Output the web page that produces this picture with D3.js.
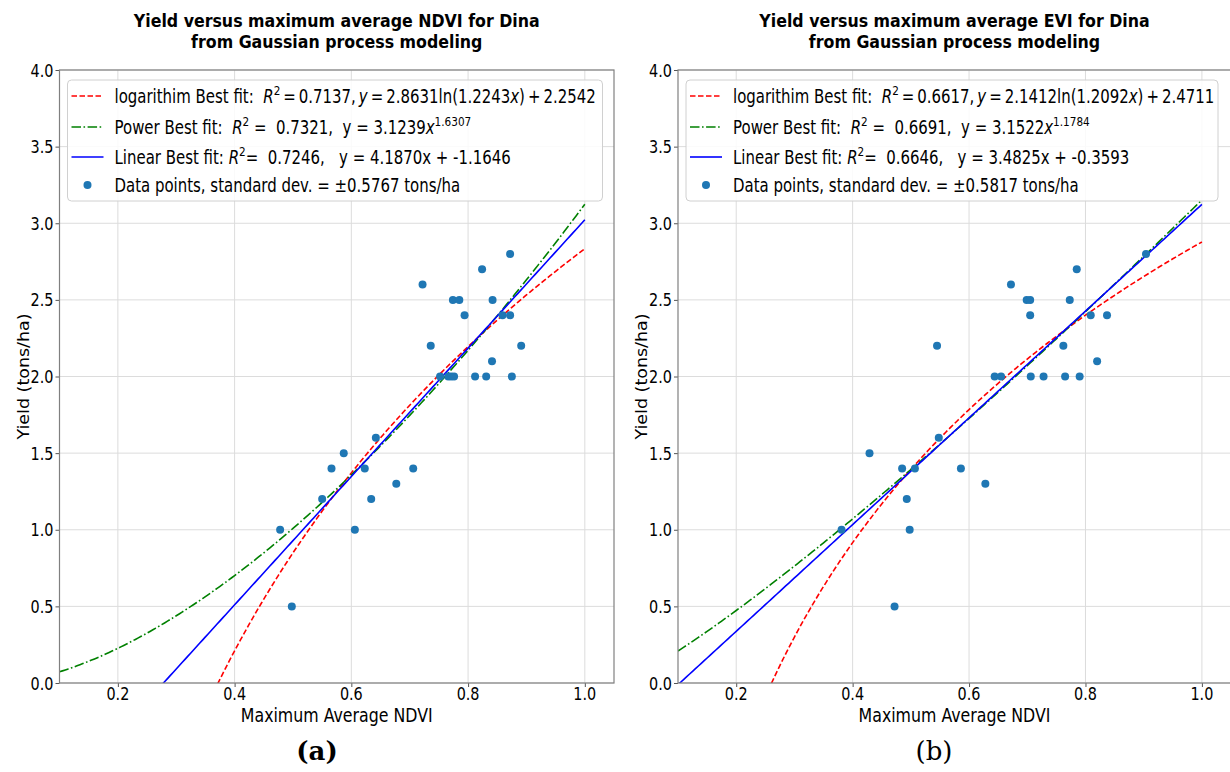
<!DOCTYPE html>
<html>
<head>
<meta charset="utf-8">
<script src="https://cdnjs.cloudflare.com/ajax/libs/d3/7.8.5/d3.min.js"></script>
<style>
  body { margin: 0; background: #fff; }
  svg { display: block; }
  text { font-family: "DejaVu Sans", sans-serif; white-space: pre; }
</style>
</head>
<body>
<svg width="1230" height="772"></svg>
<script>
// Data
const ndviX = [0.478, 0.498, 0.550, 0.566, 0.587, 0.606, 0.623, 0.634, 0.642, 0.677,
               0.706, 0.722, 0.736, 0.752, 0.766, 0.771, 0.776, 0.774, 0.785, 0.794,
               0.812, 0.824, 0.831, 0.841, 0.842, 0.859, 0.872, 0.872, 0.875, 0.891]
const ndviY = [1.0, 0.5, 1.2, 1.4, 1.5, 1.0, 1.4, 1.2, 1.6, 1.3,
               1.4, 2.6, 2.2, 2.0, 2.0, 2.0, 2.0, 2.5, 2.5, 2.4,
               2.0, 2.7, 2.0, 2.1, 2.5, 2.4, 2.8, 2.4, 2.0, 2.2]
const eviX = [0.381, 0.429, 0.472, 0.485, 0.493, 0.498, 0.507, 0.545, 0.548, 0.586,
              0.628, 0.644, 0.655, 0.672, 0.699, 0.705, 0.705, 0.706, 0.728, 0.762,
              0.765, 0.773, 0.785, 0.790, 0.809, 0.820, 0.837, 0.904]
const eviY = [1.0, 1.5, 0.5, 1.4, 1.2, 1.0, 1.4, 2.2, 1.6, 1.4,
              1.3, 2.0, 2.0, 2.6, 2.5, 2.5, 2.4, 2.0, 2.0, 2.2,
              2.0, 2.5, 2.7, 2.0, 2.4, 2.1, 2.4, 2.8]

// Fit coefficients, as printed in the legends
const ndviLog = [2.8631, 1.2243, 2.2542]   // a*ln(b*x)+c
const ndviPow = [3.1239, 1.6307]           // a*x^b
const ndviLin = [4.1870, -1.1646]          // a*x+b
const eviLog = [2.1412, 1.2092, 2.4711]
const eviPow = [3.1522, 1.1784]
const eviLin = [3.4825, -0.3593]

const xTicks = [0.2, 0.4, 0.6, 0.8, 1.0]
const yTicks = [0.0, 0.5, 1.0, 1.5, 2.0, 2.5, 3.0, 3.5, 4.0]
const fitX = d3.range(0.1, 1.0001, 0.005)

const svg = d3.select('svg')
const SX = 0.8   // the picture's text is horizontally squeezed
const plotTop = 70, plotBottom = 683
const TS = '\u2009'  // thin space, for the mathtext bits

// draw text at (x,y), squeezed horizontally; parts = [[str, kind], ...]
function label(g, x, y, parts, size, opts = {}) {
  const sx = opts.sx || SX
  const t = g.append('text')
    .attr('transform', `translate(${x},${y}) scale(${sx},1)` + (opts.rotate ? ` rotate(${opts.rotate})` : ''))
    .attr('font-size', size)
    .attr('text-anchor', opts.anchor || 'start')
    .attr('fill', opts.fill || '#000')
  if (opts.weight) t.attr('font-weight', opts.weight)
  if (opts.family) t.style('font-family', opts.family)
  if (typeof parts === 'string') parts = [[parts, '']]
  let up = false
  parts.forEach(([s, kind]) => {
    const ts = t.append('tspan').text(s)
    if (kind === 'i') ts.attr('font-style', 'italic')
    if (kind === 'sup') { ts.attr('font-size', size * 0.7).attr('dy', -size * 0.4); up = true }
    else if (up) { ts.attr('dy', size * 0.4); up = false }
  })
  return t
}

function drawPanel(cfg) {
  const x = d3.scaleLinear().domain([0.1, 1.05]).range([cfg.left, cfg.right])
  const y = d3.scaleLinear().domain([0, 4]).range([plotBottom, plotTop])
  const g = svg.append('g')
  const clipId = 'clip' + cfg.id
  svg.append('clipPath').attr('id', clipId).append('rect')
    .attr('x', cfg.left).attr('y', plotTop).attr('width', cfg.right - cfg.left).attr('height', plotBottom - plotTop)

  // grid
  g.append('g').selectAll('line').data(xTicks).join('line')
    .attr('x1', d => x(d)).attr('x2', d => x(d)).attr('y1', plotTop).attr('y2', plotBottom)
    .attr('stroke', '#dcdcdc').attr('stroke-width', 1)
  g.append('g').selectAll('line').data(yTicks).join('line')
    .attr('x1', cfg.left).attr('x2', cfg.right).attr('y1', d => y(d)).attr('y2', d => y(d))
    .attr('stroke', '#dcdcdc').attr('stroke-width', 1)

  // axes
  const ax = g.append('g').attr('transform', `translate(0,${plotBottom})`)
    .call(d3.axisBottom(x).tickValues(xTicks).tickFormat(d3.format('.1f')).tickSize(4))
  const ay = g.append('g').attr('transform', `translate(${cfg.left},0)`)
    .call(d3.axisLeft(y).tickValues(yTicks).tickFormat(d3.format('.1f')).tickSize(4))
  ;[ax, ay].forEach(a => {
    a.select('.domain').remove()
    a.selectAll('line').attr('stroke', '#555')
    a.selectAll('text').remove()
  })
  xTicks.forEach(d => label(g, x(d), plotBottom + 17, d3.format('.1f')(d), 18, { anchor: 'middle' }))
  yTicks.forEach(d => label(g, cfg.left - 6, y(d) + 6.5, d3.format('.1f')(d), 18, { anchor: 'end' }))

  // fit lines
  const plot = g.append('g').attr('clip-path', `url(#${clipId})`)
  const line = d3.line().x(d => x(d[0])).y(d => y(d[1]))
  const L = cfg.log, P = cfg.pow, N = cfg.lin
  plot.append('path').datum(fitX.map(v => [v, L[0] * Math.log(L[1] * v) + L[2]]).filter(d => d[1] > -1))
    .attr('d', line).attr('fill', 'none').attr('stroke', '#ff0000').attr('stroke-width', 1.6)
    .attr('stroke-dasharray', '5.5,2.5')
  plot.append('path').datum(fitX.map(v => [v, P[0] * Math.pow(v, P[1])]))
    .attr('d', line).attr('fill', 'none').attr('stroke', '#008000').attr('stroke-width', 1.6)
    .attr('stroke-dasharray', '9.5,2.5,1.6,2.5')
  plot.append('path').datum(fitX.map(v => [v, N[0] * v + N[1]]))
    .attr('d', line).attr('fill', 'none').attr('stroke', '#0000ff').attr('stroke-width', 1.6)

  // points
  plot.append('g').selectAll('circle').data(cfg.xs.map((v, i) => [v, cfg.ys[i]])).join('circle')
    .attr('cx', d => x(d[0])).attr('cy', d => y(d[1])).attr('r', 4)
    .attr('fill', '#1f77b4')

  // frame
  g.append('rect').attr('x', cfg.left).attr('y', plotTop)
    .attr('width', cfg.right - cfg.left).attr('height', plotBottom - plotTop)
    .attr('fill', 'none').attr('stroke', '#808080').attr('stroke-width', 1.2)

  // legend
  const lg = g.append('g')
  const lx = cfg.left + 8
  lg.append('rect').attr('x', lx).attr('y', 80).attr('width', cfg.legendW).attr('height', 121)
    .attr('rx', 4).attr('fill', '#fff').attr('fill-opacity', 0.85).attr('stroke', '#d0d0d0')
  const rows = [96, 127, 157, 185]
  const styles = [['#ff0000', '5.5,2.5'], ['#008000', '9.5,2.5,1.6,2.5'], ['#0000ff', null]]
  styles.forEach(([c, dash], i) => {
    const l = lg.append('line').attr('x1', lx + 4).attr('x2', lx + 36).attr('y1', rows[i]).attr('y2', rows[i])
      .attr('stroke', c).attr('stroke-width', 1.6)
    if (dash) l.attr('stroke-dasharray', dash)
  })
  lg.append('circle').attr('cx', lx + 20).attr('cy', rows[3]).attr('r', 4).attr('fill', '#1f77b4')
  cfg.legend.forEach((parts, i) => label(lg, lx + 47, rows[i] + 6.5, parts, 18.7))

  // titles
  const cx = (cfg.left + cfg.right) / 2
  label(g, cx, 27, cfg.title[0], 18.5, { anchor: 'middle', weight: 'bold', sx: 0.855 })
  label(g, cx, 48, cfg.title[1], 18.5, { anchor: 'middle', weight: 'bold', sx: 0.855 })
  label(g, cx, 721.5, cfg.xLabel, 19.5, { anchor: 'middle', sx: 0.81 })
  label(g, cfg.left - 31, (plotTop + plotBottom) / 2, 'Yield (tons/ha)', 17.5, { anchor: 'middle', rotate: -90, sx: 0.9 })
  label(g, cfg.tagX, 760, cfg.tag, 26, { anchor: 'middle', weight: cfg.tagWeight, family: '"DejaVu Serif", serif', sx: 1 })
}

drawPanel({
  id: 'a', left: 59.5, right: 614, xs: ndviX, ys: ndviY,
  log: ndviLog, pow: ndviPow, lin: ndviLin, legendW: 535,
  title: ['Yield versus maximum average NDVI for Dina', 'from Gaussian process modeling'],
  xLabel: 'Maximum Average NDVI', tag: '(a)', tagX: 317, tagWeight: 'bold',
  legend: [
    [['logarithim Best fit:  ', ''], ['R', 'i'], ['2', 'sup'], [TS + '=' + TS + '0.7137,' + TS, ''], ['y', 'i'], [TS + '=' + TS + '2.8631ln(1.2243', ''], ['x', 'i'], [')' + TS + '+' + TS + '2.2542', '']],
    [['Power Best fit:  ', ''], ['R', 'i'], ['2', 'sup'], [' =  0.7321,  y = 3.1239', ''], ['x', 'i'], ['1.6307', 'sup']],
    [['Linear Best fit: ', ''], ['R', 'i'], ['2', 'sup'], ['=  0.7246,   y = 4.1870x + -1.1646', '']],
    [['Data points, standard dev. = \u00b10.5767 tons/ha', '']]
  ]
})
drawPanel({
  id: 'b', left: 678, right: 1231, xs: eviX, ys: eviY,
  log: eviLog, pow: eviPow, lin: eviLin, legendW: 532,
  title: ['Yield versus maximum average EVI for Dina', 'from Gaussian process modeling'],
  xLabel: 'Maximum Average NDVI', tag: '(b)', tagX: 934, tagWeight: 'normal',
  legend: [
    [['logarithim Best fit:  ', ''], ['R', 'i'], ['2', 'sup'], [TS + '=' + TS + '0.6617,' + TS, ''], ['y', 'i'], [TS + '=' + TS + '2.1412ln(1.2092', ''], ['x', 'i'], [')' + TS + '+' + TS + '2.4711', '']],
    [['Power Best fit:  ', ''], ['R', 'i'], ['2', 'sup'], [' =  0.6691,  y = 3.1522', ''], ['x', 'i'], ['1.1784', 'sup']],
    [['Linear Best fit: ', ''], ['R', 'i'], ['2', 'sup'], ['=  0.6646,   y = 3.4825x + -0.3593', '']],
    [['Data points, standard dev. = \u00b10.5817 tons/ha', '']]
  ]
})
</script>
</body>
</html>
